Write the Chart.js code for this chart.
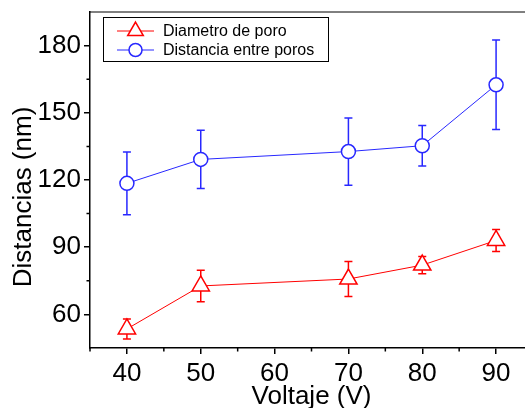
<!DOCTYPE html>
<html>
<head>
<meta charset="utf-8">
<script src="https://cdn.jsdelivr.net/npm/chart.js@4.4.1/dist/chart.umd.min.js"></script>
<style>
  html, body { margin: 0; padding: 0; background: #fff; overflow: hidden; }
  #wrap { width: 545px; height: 408px; }
</style>
</head>
<body>
<div id="wrap"><canvas id="poreChart"></canvas></div>
<script>
const voltaje = [40, 50, 70, 80, 90];
const diametro = [53.5, 72.7, 75.8, 82.0, 93.0];
const diametroErr = [4.5, 7.0, 7.8, 3.9, 4.9];
const distancia = [118.5, 129.2, 132.7, 135.3, 162.5];
const distanciaErr = [14.0, 13.0, 15.0, 9.0, 20.0];
const xTicks = [40, 50, 60, 70, 80, 90];
const xMinorTicks = [35, 45, 55, 65, 75, 85, 95];
const yTicks = [60, 90, 120, 150, 180];
const yMinorTicks = [75, 105, 135, 165];
const serieLabels = ['Diametro de poro', 'Distancia entre poros'];

const RED = 'rgb(255, 0, 0)';
const BLUE = 'rgb(40, 40, 255)';
const FONT = 'Arial, "Liberation Sans", sans-serif';

function toPoints(ys) {
    return voltaje.map((v, i) => ({ x: v, y: ys[i] }));
}

function drawMarker(ctx, style, cx, cy, r) {
    ctx.beginPath();
    if (style === 'triangle') {
        for (let k = 0; k < 3; k++) {
            const a = k * 2 * Math.PI / 3;
            const px = cx + Math.sin(a) * r, py = cy - Math.cos(a) * r;
            if (k) ctx.lineTo(px, py); else ctx.moveTo(px, py);
        }
        ctx.closePath();
    } else {
        ctx.arc(cx, cy, r, 0, 2 * Math.PI);
    }
    ctx.fill();
    ctx.stroke();
}

// error bars go under the lines and markers
const errorBars = {
    id: 'errorBars',
    beforeDatasetsDraw(chart) {
        const ctx = chart.ctx, xs = chart.scales.x, ys = chart.scales.y;
        chart.data.datasets.forEach(ds => {
            ctx.save();
            ctx.strokeStyle = ds.borderColor;
            ctx.lineWidth = 1.5;
            ds.data.forEach((p, i) => {
                const px = xs.getPixelForValue(p.x);
                const top = ys.getPixelForValue(p.y + ds.errors[i]);
                const bot = ys.getPixelForValue(p.y - ds.errors[i]);
                ctx.beginPath();
                ctx.moveTo(px, top); ctx.lineTo(px, bot);
                ctx.moveTo(px - 4, top); ctx.lineTo(px + 4, top);
                ctx.moveTo(px - 4, bot); ctx.lineTo(px + 4, bot);
                ctx.stroke();
            });
            ctx.restore();
        });
    }
};

// frame, minor ticks, axis titles, boxed legend
const frameAndLegend = {
    id: 'frameAndLegend',
    afterDraw(chart) {
        const ctx = chart.ctx, a = chart.chartArea;
        const xs = chart.scales.x, ys = chart.scales.y;
        ctx.save();
        ctx.strokeStyle = '#000';
        ctx.lineWidth = 1;
        ctx.beginPath();
        ctx.moveTo(a.left, a.top); ctx.lineTo(a.right, a.top); ctx.lineTo(a.right, a.bottom);
        ctx.stroke();

        ctx.lineWidth = 1.5;
        ctx.beginPath();
        xMinorTicks.forEach(v => {
            const px = xs.getPixelForValue(v);
            ctx.moveTo(px, a.bottom); ctx.lineTo(px, a.bottom + 3.5);
        });
        yMinorTicks.forEach(v => {
            const py = ys.getPixelForValue(v);
            ctx.moveTo(a.left, py); ctx.lineTo(a.left - 3.5, py);
        });
        ctx.stroke();

        ctx.fillStyle = '#000';
        ctx.font = '26px ' + FONT;
        ctx.textAlign = 'center';
        ctx.textBaseline = 'alphabetic';
        ctx.fillText('Voltaje (V)', (a.left + a.right) / 2, 404);
        ctx.save();
        ctx.translate(31, 197);
        ctx.rotate(-Math.PI / 2);
        ctx.fillText('Distancias (nm)', 0, 0);
        ctx.restore();

        // legend
        ctx.fillStyle = '#fff';
        ctx.fillRect(103, 17, 225, 44);
        ctx.strokeStyle = '#000';
        ctx.lineWidth = 1;
        ctx.strokeRect(103.5, 17.5, 225, 44);
        const rows = [31, 50];
        chart.data.datasets.forEach((ds, i) => {
            const y = rows[i];
            ctx.strokeStyle = ds.borderColor;
            ctx.lineWidth = 1;
            ctx.beginPath();
            ctx.moveTo(117, y); ctx.lineTo(154, y);
            ctx.stroke();
            ctx.fillStyle = '#fff';
            ctx.lineWidth = 1.5;
            drawMarker(ctx, ds.pointStyle, 135.5, y, ds.pointStyle === 'triangle' ? 9 : 6.5);
            ctx.fillStyle = '#000';
            ctx.font = '16px ' + FONT;
            ctx.textAlign = 'left';
            ctx.textBaseline = 'middle';
            ctx.fillText(ds.label, 163, y + 1);
        });
        ctx.restore();
    }
};

new Chart(document.getElementById('poreChart').getContext('2d'), {
    type: 'line',
    data: {
        datasets: [
            {
                label: serieLabels[0],
                data: toPoints(diametro),
                errors: diametroErr,
                borderColor: RED,
                backgroundColor: '#fff',
                borderWidth: 1,
                pointStyle: 'triangle',
                pointRadius: 10,
                pointBorderWidth: 1.5,
                pointBackgroundColor: '#fff',
                tension: 0
            },
            {
                label: serieLabels[1],
                data: toPoints(distancia),
                errors: distanciaErr,
                borderColor: BLUE,
                backgroundColor: '#fff',
                borderWidth: 1,
                pointStyle: 'circle',
                pointRadius: 7,
                pointBorderWidth: 1.5,
                pointBackgroundColor: '#fff',
                tension: 0
            }
        ]
    },
    options: {
        responsive: true,
        maintainAspectRatio: false,
        animation: false,
        events: [],
        layout: { padding: { top: 12, right: 12, left: 0, bottom: 0 } },
        plugins: {
            legend: { display: false },
            tooltip: { enabled: false }
        },
        scales: {
            x: {
                type: 'linear',
                min: 35,
                max: 95,
                afterBuildTicks: s => { s.ticks = xTicks.map(v => ({ value: v })); },
                afterFit: s => { s.height = 60; s.paddingLeft = 0; s.paddingRight = 0; },
                grid: { drawOnChartArea: false, drawTicks: true, tickLength: 6, color: '#000', lineWidth: 1.5 },
                border: { display: true, color: '#000', width: 1.5 },
                ticks: { color: '#000', font: { family: FONT, size: 26 }, padding: 4, maxRotation: 0 }
            },
            y: {
                min: 45,
                max: 195,
                afterBuildTicks: s => { s.ticks = yTicks.map(v => ({ value: v })); },
                afterFit: s => { s.width = 90; s.paddingTop = 0; s.paddingBottom = 0; },
                grid: { drawOnChartArea: false, drawTicks: true, tickLength: 6, color: '#000', lineWidth: 1.5 },
                border: { display: true, color: '#000', width: 1.5 },
                ticks: { color: '#000', font: { family: FONT, size: 26 }, padding: 3 }
            }
        }
    },
    plugins: [errorBars, frameAndLegend]
});
</script>
</body>
</html>
